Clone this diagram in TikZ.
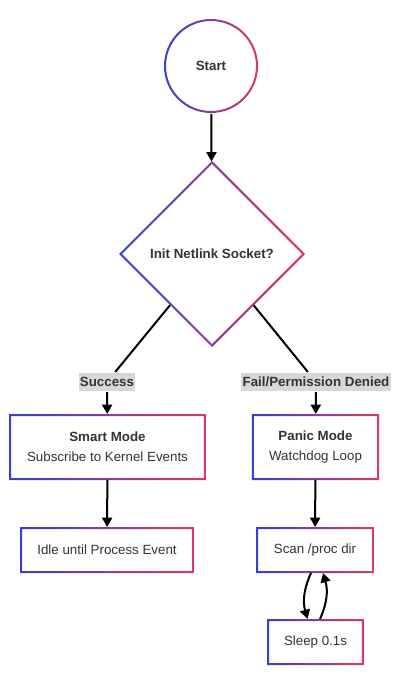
\documentclass[tikz,border=0pt]{standalone}
\usepackage{fontspec}
\setmainfont{Liberation Sans}
\usetikzlibrary{arrows.meta,shapes.geometric}

\definecolor{edgeblue}{RGB}{52,64,214}
\definecolor{edgered}{RGB}{222,56,96}
\definecolor{inktext}{RGB}{51,51,51}
\definecolor{labelgray}{RGB}{216,216,216}

\tikzset{every picture/.style={line width=1.5pt},
  every node/.style={font=\fontsize{10pt}{15pt}\selectfont, text=inktext, align=center},
  gradline/.style={even odd rule, left color=edgeblue, right color=edgered},
  flowbox/.style={rectangle, minimum height=33pt, inner sep=0pt},
  edgelabel/.style={fill=labelgray, font=\fontsize{10pt}{12pt}\selectfont\bfseries, inner xsep=1pt, inner ysep=0pt, minimum height=13.5pt},
  flow/.style={draw=black, -{Triangle[length=7pt,width=7.5pt]}},
  link/.style={draw=black}}

\begin{document}
\begin{tikzpicture}[x=0.75pt,y=0.75pt,yscale=-1,xscale=1]
\useasboundingbox (0,0) rectangle (400,684);

% Nodes
\node[circle, minimum size=70.5pt, inner sep=0pt, font=\fontsize{10pt}{12pt}\selectfont\bfseries] (start) at (211,66) {Start};
\node[diamond, minimum width=138pt, minimum height=138pt, inner sep=0pt, font=\fontsize{10pt}{12pt}\selectfont\bfseries] (dia) at (212,254) {Init Netlink Socket?};
\node[edgelabel] (succ) at (107,382) {Success};
\node[edgelabel] (fail) at (316,382) {Fail/Permission Denied};
\node[flowbox, minimum width=146pt, minimum height=48pt] (smart) at (107.5,447) {{\bfseries Smart Mode}\\Subscribe to Kernel Events};
\node[flowbox, minimum width=94pt, minimum height=48pt] (panic) at (315.5,447) {{\bfseries Panic Mode}\\Watchdog Loop};
\node[flowbox, minimum width=129pt] (idle) at (107,550) {Idle until Process Event};
\node[flowbox, minimum width=87pt] (scan) at (315,550) {Scan /proc dir};
\node[flowbox, minimum width=71pt] (sleep) at (315.5,642) {Sleep 0.1s};

% Gradient outlines
\shade[gradline] (start.center) circle (35.25pt) (start.center) circle (33.75pt);
\shade[gradline] (dia.north) -- (dia.east) -- (dia.south) -- (dia.west) -- cycle
  ([shift={(0,2.1pt)}]dia.north) -- ([shift={(-2.1pt,0)}]dia.east) -- ([shift={(0,-2.1pt)}]dia.south) -- ([shift={(2.1pt,0)}]dia.west) -- cycle;
\foreach \n in {smart,panic,idle,scan,sleep}{
  \shade[gradline] (\n.south west) rectangle (\n.north east)
    ([shift={(1.5pt,-1.5pt)}]\n.south west) rectangle ([shift={(-1.5pt,1.5pt)}]\n.north east);
}

% Connectors
\draw[flow] (start) -- (dia);
\draw[link] (dia) -- (succ);
\draw[flow] (succ) -- (smart);
\draw[link] (dia) -- (fail);
\draw[flow] (fail) -- (panic);
\draw[flow] (smart) -- (idle);
\draw[flow] (panic) -- (scan);
\draw[flow] ([xshift=-3pt]scan.south) to[bend left=20] ([xshift=-6pt]sleep.north);
\draw[flow] ([xshift=3.4pt]sleep.north) to[bend left=20] ([xshift=6pt]scan.south);

\end{tikzpicture}
\end{document}
